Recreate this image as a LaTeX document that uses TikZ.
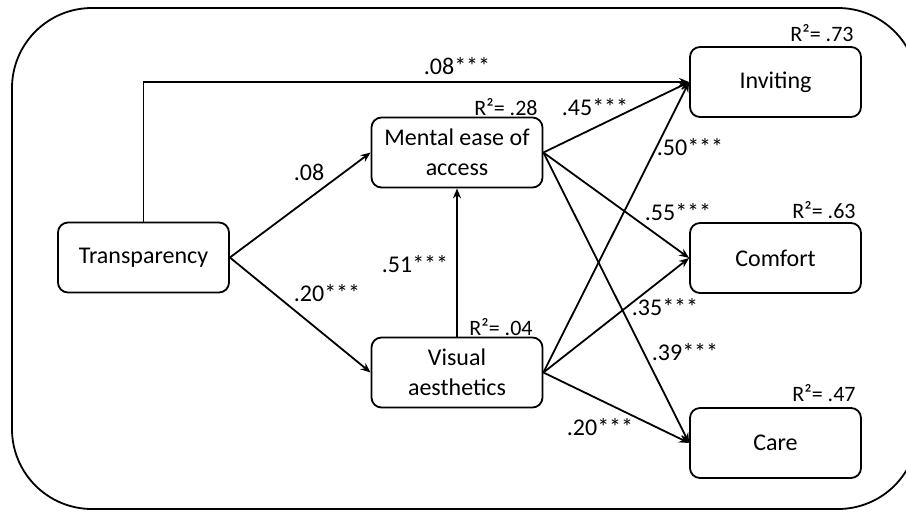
\documentclass[tikz,border=0pt]{standalone}
\usepackage{fontspec}
\setmainfont{Carlito}
\usetikzlibrary{arrows.meta,positioning}

\begin{document}
\begin{tikzpicture}[
  x=0.5pt, y=-0.5pt,
  %% ── variable box ──────────────────────────────────────────────────────
  V/.style={
    draw, rounded corners=5pt, line width=0.9pt,
    minimum width=85.5pt, minimum height=35pt,
    align=center, font=\fontsize{12}{15}\selectfont, inner sep=2pt
  },
  %% ── path arrow ────────────────────────────────────────────────────────
  A/.style={-{Stealth[length=5pt,width=4pt]}, line width=0.9pt},
  %% ── coefficient label ─────────────────────────────────────────────────
  L/.style={font=\fontsize{12}{14}\selectfont, inner sep=1pt},
  %% ── explained variance label ──────────────────────────────────────────
  R/.style={font=\fontsize{11}{13}\selectfont, inner sep=1pt},
]

\useasboundingbox (0,0) rectangle (906,511);

%% ═══════════════════════════════════════════════════════════════════════
%%  FRAME
%% ═══════════════════════════════════════════════════════════════════════

\draw[line width=0.9pt, rounded corners=40pt] (12,8) rectangle (918,509);

%% ═══════════════════════════════════════════════════════════════════════
%%  VARIABLES
%% ═══════════════════════════════════════════════════════════════════════

\node[V] (trans) at (143.5,257.5) {Transparency};

\node[V] (ease)  at (457,152.5) {Mental ease of\\access};
\node[V] (vis)   at (457,372.5) {Visual\\aesthetics};

\node[V] (inv)   at (775.5,82)  {Inviting};
\node[V] (comf)  at (775.5,258) {Comfort};
\node[V] (care)  at (775.5,443) {Care};

%% R-squared
\node[R] (rInv)  at (822,33)  {R²= .73};
\node[R] (rEase) at (506,107) {R²= .28};
\node[R] (rComf) at (824,210) {R²= .63};
\node[R] (rVis)  at (501,327) {R²= .04};
\node[R] (rCare) at (824,393) {R²= .47};

%% ═══════════════════════════════════════════════════════════════════════
%%  PATHS
%% ═══════════════════════════════════════════════════════════════════════

%% direct effect
\draw[A] (trans.north) |- (inv.west);
\node[L] at (457,66) {.08***};

%% transparency → mediators
\draw[A] (trans.east) -- (ease.west);
\draw[A] (trans.east) -- (vis.west);
\draw[A] (vis.north)  -- (ease.south);
\node[L] at (309,172) {.08};
\node[L] at (327,293) {.20***};
\node[L] at (415,264) {.51***};

%% mediators → outcomes
\draw[A] (ease.east) -- (inv.west);
\draw[A] (ease.east) -- (comf.west);
\draw[A] (ease.east) -- (care.west);
\draw[A] (vis.east)  -- (inv.west);
\draw[A] (vis.east)  -- (comf.west);
\draw[A] (vis.east)  -- (care.west);

\node[L] at (595,107) {.45***};
\node[L] at (690,147) {.50***};
\node[L] at (678,212) {.55***};
\node[L] at (665,307) {.35***};
\node[L] at (685,352) {.39***};
\node[L] at (600,427) {.20***};

\end{tikzpicture}
\end{document}
